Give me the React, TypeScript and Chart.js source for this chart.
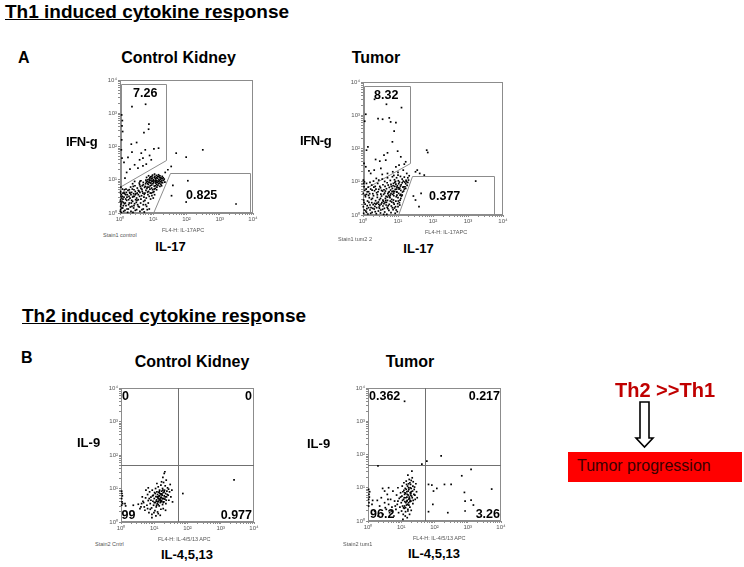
import React, { useEffect, useRef } from 'react';
import { Chart, registerables } from 'chart.js';

Chart.register(...registerables);

const FONT = '"Liberation Sans", Arial, Helvetica, sans-serif';

// axis ticks (log decades with minor ticks)
const DECADE_VALUES = [1, 10, 100, 1000, 10000];
const DECADE_LABELS = ['10⁰', '10¹', '10²', '10³', '10⁴'];
const TICK_VALUES = [
  1, 2, 3, 4, 5, 6, 7, 8, 9,
  10, 20, 30, 40, 50, 60, 70, 80, 90,
  100, 200, 300, 400, 500, 600, 700, 800, 900,
  1000, 2000, 3000, 4000, 5000, 6000, 7000, 8000, 9000,
  10000,
];

// events: [log10 x-channel, log10 y-channel]
const th1ControlEvents: number[][] = [
  [0.36, 3.2], [0.77, 3.27], [0.87, 2.67], [0.86, 2.52], [0.05, 2.95], [0.07, 2.78], [0.06, 2.62], [0.08, 2.45],
  [0.72, 2.42], [0.34, 2.07], [0.36, 1.83], [0.24, 1.67], [0.64, 1.8], [0.69, 1.65], [0.76, 1.9], [1.02, 1.93],
  [1.16, 1.95], [0.59, 1.6], [0.94, 1.6], [0.89, 1.73], [0.44, 1.45], [0.54, 1.35], [0.69, 1.42], [0.79, 1.47],
  [0.05, 2.2], [0.04, 1.9], [0.3, 1.32], [0.12, 1.52], [0.2, 1.22], [0.5, 2.12], [0.06, 1.65], [0.15, 1.05],
  [1.69, 1.8], [1.99, 1.68], [2.49, 1.9], [1.54, 1.4], [1.44, 1.3], [1.36, 1.22],
  [2.04, 0.97], [1.59, 0.83], [1.99, 0.33], [3.49, 0.27], [1.55, 0.52],
  [0.82, 0.95], [0.88, 1.02], [0.93, 0.98], [0.97, 1.05], [1.01, 0.92], [1.05, 1.1], [1.08, 0.99], [1.12, 1.04],
  [1.15, 0.95], [1.19, 1.08], [1.22, 1.01], [1.26, 0.97], [1.3, 1.06], [0.85, 0.86], [0.9, 0.91], [0.95, 0.84],
  [0.99, 0.88], [1.03, 0.81], [1.07, 0.9], [1.1, 0.86], [1.14, 0.83], [1.18, 0.9], [1.23, 0.87], [0.78, 0.99],
  [0.8, 1.07], [0.86, 1.12], [0.92, 1.09], [0.98, 1.14], [1.04, 1.17], [1.1, 1.13], [1.16, 1.15], [1.2, 1.12],
  [1.27, 1.1], [1.33, 1.02], [1.35, 0.93], [0.96, 0.95], [1.0, 1.0], [1.06, 1.03], [1.11, 0.97], [1.17, 1.01],
  [0.89, 0.97], [0.94, 1.03], [1.13, 1.09], [1.24, 1.05], [1.28, 0.91], [0.83, 0.89], [1.09, 0.93], [1.21, 0.95],
  [0.91, 0.82], [1.02, 0.97],
  [0.35, 0.62], [0.42, 0.7], [0.48, 0.58], [0.52, 0.75], [0.57, 0.66], [0.61, 0.8], [0.66, 0.71], [0.7, 0.85],
  [0.74, 0.77], [0.78, 0.68], [0.4, 0.5], [0.45, 0.82], [0.5, 0.45], [0.55, 0.55], [0.6, 0.62], [0.65, 0.52],
  [0.69, 0.6], [0.73, 0.56], [0.77, 0.88], [0.81, 0.74], [0.86, 0.65], [0.9, 0.72], [0.94, 0.6], [0.98, 0.7],
  [1.02, 0.64], [1.06, 0.74], [1.1, 0.7], [0.32, 0.78], [0.38, 0.88], [0.44, 0.95], [0.58, 0.9], [0.63, 0.97],
  [0.28, 0.7], [0.84, 0.55], [0.88, 0.5], [0.92, 0.42], [0.96, 0.52], [1.0, 0.45], [1.04, 0.55], [0.72, 0.48],
  [0.02, 0.1], [0.03, 0.25], [0.02, 0.4], [0.04, 0.55], [0.02, 0.65], [0.03, 0.78], [0.01, 0.05], [0.08, 0.15],
  [0.1, 0.32], [0.12, 0.48], [0.15, 0.08], [0.18, 0.22], [0.2, 0.38], [0.22, 0.55], [0.25, 0.12], [0.28, 0.3],
  [0.3, 0.45], [0.33, 0.05], [0.36, 0.2], [0.38, 0.35], [0.41, 0.15], [0.44, 0.28], [0.47, 0.4], [0.5, 0.1],
  [0.53, 0.25], [0.06, 0.35], [0.09, 0.6], [0.13, 0.7], [0.16, 0.3], [0.19, 0.62], [0.23, 0.02], [0.27, 0.5],
  [0.31, 0.18], [0.35, 0.38], [0.39, 0.02], [0.43, 0.5], [0.46, 0.08], [0.49, 0.32], [0.55, 0.4], [0.58, 0.18],
  [0.62, 0.3], [0.66, 0.1], [0.7, 0.25], [0.75, 0.38], [0.8, 0.2], [0.05, 0.45], [0.11, 0.05], [0.14, 0.58],
  [0.24, 0.68], [0.07, 0.72], [0.85, 0.3], [0.88, 0.12],
  [0.84, 1.0], [0.87, 0.93], [0.9, 1.06], [0.93, 0.9], [0.96, 1.1], [0.99, 0.96], [1.03, 1.07], [1.06, 0.95],
  [1.09, 1.06], [1.12, 0.92], [1.15, 1.1], [1.18, 0.97], [1.21, 1.06], [1.24, 0.93], [1.27, 1.03], [1.31, 0.98],
  [0.76, 0.8], [0.79, 0.93], [0.82, 0.78], [0.7, 0.92], [0.67, 0.82], [0.63, 0.74], [0.59, 0.85], [0.55, 0.68],
  [0.52, 0.6], [0.46, 0.65], [0.41, 0.58], [0.37, 0.72], [0.33, 0.55], [0.29, 0.62], [0.26, 0.4], [0.21, 0.48],
  [0.17, 0.42], [0.1, 0.22], [0.07, 0.5], [0.04, 0.3], [0.12, 0.62], [0.18, 0.72], [0.4, 0.8], [0.6, 0.95],
  [0.05, 0.15], [0.09, 0.42], [0.13, 0.28], [0.17, 0.55], [0.21, 0.12], [0.26, 0.25], [0.3, 0.6], [0.34, 0.3],
  [0.38, 0.48], [0.42, 0.22], [0.46, 0.55], [0.51, 0.38], [0.55, 0.2], [0.59, 0.5], [0.63, 0.42], [0.67, 0.65],
  [0.71, 0.35], [0.75, 0.6], [0.79, 0.45], [0.83, 0.63], [0.87, 0.78], [0.91, 0.6], [0.95, 0.75], [0.99, 0.62],
  [1.03, 0.72], [1.07, 0.82], [1.11, 0.78], [1.16, 0.88], [1.2, 0.8], [1.25, 0.82], [0.02, 0.2], [0.01, 0.35],
  [0.03, 0.5], [0.02, 0.6], [0.04, 0.02], [0.6, 0.05], [0.7, 0.12], [0.77, 0.25], [0.82, 0.1], [0.73, 0.03],
];

const th1TumorEvents: number[][] = [
  [0.33, 3.48], [0.67, 3.33], [1.1, 3.23], [0.43, 2.9], [0.56, 2.88], [0.75, 2.92], [0.79, 2.8], [0.94, 2.78],
  [0.89, 2.52], [0.08, 3.03], [0.05, 2.82], [0.14, 2.05], [0.1, 1.95], [0.36, 1.67], [0.48, 1.62], [0.51, 1.4],
  [0.6, 1.8], [0.65, 1.65], [0.7, 1.87], [0.84, 2.2], [0.99, 1.92], [1.08, 1.75], [1.22, 1.6], [0.08, 1.45],
  [0.17, 1.33], [0.32, 1.35], [0.22, 1.25], [0.01, 1.05], [0.03, 1.55], [0.94, 1.45], [1.03, 1.5], [1.18, 1.53],
  [1.82, 1.95], [1.85, 1.88], [1.5, 1.3], [1.62, 1.25], [1.75, 1.2], [1.55, 1.35],
  [3.22, 1.02], [1.66, 0.65], [1.5, 0.45], [1.6, 0.25], [1.44, 0.57],
  [0.02, 0.05], [0.08, 0.12], [0.14, 0.03], [0.2, 0.15], [0.26, 0.08], [0.32, 0.18], [0.38, 0.04], [0.44, 0.12],
  [0.5, 0.06], [0.56, 0.17], [0.62, 0.09], [0.68, 0.02], [0.74, 0.14], [0.8, 0.07], [0.86, 0.16], [0.92, 0.05],
  [0.98, 0.1], [0.11, 0.19], [0.35, 0.1], [0.59, 0.02], [0.71, 0.19], [0.47, 0.2],
  [0.01, 0.25], [0.06, 0.33], [0.12, 0.28], [0.17, 0.38], [0.23, 0.22], [0.29, 0.31], [0.34, 0.26], [0.4, 0.36],
  [0.46, 0.24], [0.52, 0.33], [0.57, 0.27], [0.63, 0.38], [0.69, 0.23], [0.75, 0.32], [0.81, 0.27], [0.87, 0.37],
  [0.93, 0.25], [0.99, 0.34], [1.05, 0.3], [0.03, 0.38], [0.44, 0.39], [0.66, 0.3], [0.9, 0.21], [0.2, 0.3],
  [0.02, 0.45], [0.07, 0.55], [0.13, 0.42], [0.18, 0.52], [0.24, 0.47], [0.3, 0.58], [0.36, 0.43], [0.41, 0.53],
  [0.47, 0.46], [0.53, 0.57], [0.58, 0.41], [0.64, 0.5], [0.7, 0.44], [0.76, 0.55], [0.82, 0.47], [0.88, 0.58],
  [0.94, 0.42], [1.0, 0.52], [1.06, 0.45], [1.1, 0.57], [0.27, 0.5], [0.5, 0.5], [0.73, 0.59], [0.97, 0.6],
  [0.16, 0.59],
  [0.01, 0.65], [0.05, 0.74], [0.1, 0.62], [0.16, 0.7], [0.22, 0.78], [0.28, 0.64], [0.33, 0.73], [0.39, 0.67],
  [0.45, 0.77], [0.51, 0.63], [0.56, 0.72], [0.62, 0.66], [0.67, 0.79], [0.73, 0.68], [0.79, 0.75], [0.85, 0.62],
  [0.9, 0.71], [0.96, 0.78], [1.02, 0.65], [1.08, 0.74], [1.13, 0.69], [1.18, 0.78], [0.6, 0.76], [0.84, 0.8],
  [0.41, 0.61],
  [0.03, 0.85], [0.02, 0.95], [0.15, 0.84], [0.25, 0.9], [0.35, 0.86], [0.42, 0.95], [0.5, 0.82], [0.57, 0.91],
  [0.63, 0.86], [0.69, 0.97], [0.75, 0.83], [0.8, 0.92], [0.86, 0.88], [0.91, 0.98], [0.97, 0.84], [1.02, 0.94],
  [1.07, 0.87], [1.12, 0.97], [1.17, 0.85], [1.22, 0.94], [1.26, 0.89], [0.72, 0.9], [0.94, 0.93], [1.05, 0.81],
  [0.3, 1.02], [0.45, 1.05], [0.55, 1.08], [0.62, 1.01], [0.7, 1.12], [0.78, 1.04], [0.84, 1.15], [0.9, 1.06],
  [0.96, 1.12], [1.01, 1.03], [1.07, 1.16], [1.12, 1.08], [1.18, 1.14], [1.23, 1.04], [1.28, 1.12], [1.32, 1.18],
  [0.88, 1.19], [1.0, 1.2],
  [0.7, 1.25], [0.85, 1.3], [1.0, 1.28], [1.15, 1.35], [1.25, 1.25], [0.55, 1.22],
  [0.78, 0.6], [0.83, 0.7], [0.88, 0.66], [0.92, 0.77], [0.97, 0.69], [1.03, 0.78], [1.08, 0.62], [1.14, 0.84],
  [1.19, 0.99], [1.24, 1.0], [0.81, 0.86], [0.87, 0.95], [0.93, 1.01], [0.98, 0.88], [1.04, 0.99], [1.09, 0.91],
  [1.15, 1.02], [0.66, 0.56], [0.71, 0.64], [0.77, 0.52], [0.82, 0.39], [0.87, 0.45], [0.95, 0.55], [1.01, 0.42],
  [0.6, 0.34], [0.65, 0.44], [0.54, 0.37], [0.48, 0.29], [0.37, 0.33], [0.25, 0.37],
  [0.04, 0.15], [0.1, 0.08], [0.16, 0.22], [0.22, 0.05], [0.28, 0.2], [0.33, 0.35], [0.39, 0.22], [0.45, 0.32],
  [0.51, 0.15], [0.57, 0.45], [0.61, 0.2], [0.67, 0.38], [0.72, 0.28], [0.78, 0.42], [0.84, 0.22], [0.89, 0.33],
  [0.95, 0.15], [1.0, 0.25], [1.04, 0.37], [1.08, 0.5], [1.12, 0.6], [1.16, 0.72], [1.2, 0.85], [1.22, 0.8],
  [1.28, 0.98], [1.3, 1.05], [0.06, 0.6], [0.09, 0.78], [0.12, 0.7], [0.19, 0.64], [0.26, 0.75], [0.31, 0.84],
  [0.37, 0.78], [0.43, 0.7], [0.48, 0.86], [0.53, 0.74], [0.59, 0.62], [0.64, 0.72], [0.7, 0.54], [0.75, 0.7],
  [0.8, 0.64], [0.86, 0.72], [0.91, 0.86], [0.96, 0.7], [1.01, 0.82], [1.06, 0.6], [0.04, 1.0], [0.1, 0.95],
  [0.2, 0.98], [0.38, 1.1],
];

const th2ControlEvents: number[][] = [
  [0.02, 0.5], [0.03, 0.6], [0.02, 0.7], [0.04, 0.78], [0.03, 0.85], [0.05, 0.55], [0.02, 0.92], [0.12, 0.55],
  [0.14, 0.48],
  [1.86, 0.85], [3.4, 1.26], [0.37, 0.5], [0.93, 0.13],
  [0.52, 0.53], [0.6, 0.45], [0.66, 0.62], [0.68, 0.58], [0.72, 0.35], [0.74, 0.72], [0.78, 0.5], [0.8, 0.82],
  [0.82, 0.64], [0.84, 0.28], [0.86, 0.9], [0.88, 0.55], [0.9, 0.74], [0.92, 0.42], [0.93, 0.23], [0.94, 0.95],
  [0.96, 0.62], [0.97, 0.8], [0.98, 0.5], [1.0, 0.7], [1.01, 0.88], [1.02, 0.34], [1.03, 0.58], [1.04, 1.0],
  [1.05, 0.76], [1.06, 0.45], [1.07, 0.66], [1.08, 0.9], [1.09, 0.55], [1.1, 0.82], [1.1, 0.3], [1.11, 0.72],
  [1.12, 1.05], [1.13, 0.62], [1.14, 0.88], [1.15, 0.48], [1.16, 0.78], [1.16, 0.95], [1.17, 0.68], [1.18, 0.58],
  [1.19, 0.84], [1.2, 1.1], [1.2, 0.38], [1.21, 0.74], [1.22, 0.92], [1.23, 0.62], [1.24, 0.8], [1.25, 1.0],
  [1.25, 0.52], [1.26, 0.7], [1.27, 0.88], [1.28, 1.18], [1.29, 0.6], [1.3, 0.78], [1.3, 1.45], [1.31, 0.95],
  [1.32, 0.68], [1.33, 1.08], [1.34, 0.85], [1.35, 0.55], [1.36, 1.25], [1.37, 0.75], [1.38, 0.92], [1.4, 1.02],
  [1.42, 0.8], [1.44, 0.65], [1.46, 0.9], [1.48, 1.12], [1.5, 0.75], [1.53, 0.95], [1.55, 0.6], [1.26, 1.33],
  [1.32, 1.5], [1.22, 1.2], [0.99, 0.28], [1.05, 0.18], [0.88, 0.38], [0.75, 0.95], [0.7, 0.45], [0.64, 0.75],
  [1.12, 0.25], [1.18, 0.2], [1.27, 0.4], [1.34, 0.35], [0.57, 0.4], [0.82, 1.02], [1.08, 1.15], [1.15, 0.66],
  [1.19, 0.72], [1.23, 0.84], [1.14, 0.77], [1.21, 0.64], [1.28, 0.7], [1.11, 0.6],
  [0.9, 0.65], [0.95, 0.78], [1.0, 0.58], [1.03, 0.85], [1.06, 0.62], [1.09, 0.75], [1.12, 0.52], [1.15, 0.9],
  [1.18, 0.65], [1.21, 0.82], [1.24, 0.7], [1.27, 0.58], [1.3, 0.9], [1.33, 0.75], [1.36, 0.65], [1.13, 0.7],
  [1.17, 0.85], [1.2, 0.6], [1.26, 0.95], [1.07, 0.5], [0.85, 0.7], [0.8, 0.4], [1.39, 0.82], [1.43, 0.98],
  [0.62, 0.55],
];

const th2TumorEvents: number[][] = [
  [0.02, 0.45], [0.03, 0.55], [0.02, 0.65], [0.04, 0.72], [0.03, 0.8], [0.05, 0.88], [0.12, 0.5], [0.14, 0.62],
  [0.02, 0.95],
  [1.1, 3.6], [2.2, 1.96], [1.77, 1.8], [1.62, 1.71], [0.3, 1.66],
  [1.82, 1.1], [1.92, 1.08], [1.97, 0.9], [2.07, 0.98], [2.3, 1.1], [2.5, 1.1], [2.82, 1.36], [3.1, 1.55],
  [2.9, 0.86], [2.92, 0.6], [3.1, 0.63], [3.72, 0.96], [1.82, 0.28], [2.92, 0.3], [3.17, 0.48], [1.95, 0.5],
  [2.4, 0.25],
  [0.2, 0.3], [0.28, 0.62], [0.35, 0.45], [0.4, 0.7], [0.45, 0.2], [0.5, 0.55], [0.55, 0.35], [0.58, 0.8],
  [0.62, 0.5], [0.65, 0.25], [0.68, 0.65], [0.72, 0.42], [0.75, 0.9], [0.78, 0.15], [0.8, 0.6], [0.84, 0.35],
  [0.86, 0.78], [0.88, 0.5], [0.9, 1.0], [0.92, 0.25], [0.94, 0.68], [0.96, 0.42], [0.98, 0.85], [0.3, 0.15],
  [0.5, 0.9], [0.62, 1.0], [0.44, 0.98],
  [1.0, 0.55], [1.01, 0.3], [1.02, 0.75], [1.03, 1.05], [1.04, 0.45], [1.05, 0.88], [1.06, 0.2], [1.07, 0.65],
  [1.08, 1.15], [1.09, 0.38], [1.1, 0.8], [1.11, 0.58], [1.12, 0.98], [1.13, 0.28], [1.14, 0.7], [1.15, 1.2],
  [1.16, 0.48], [1.17, 0.88], [1.18, 0.62], [1.19, 1.05], [1.2, 0.35], [1.21, 0.78], [1.22, 0.55], [1.23, 0.95],
  [1.24, 1.25], [1.25, 0.68], [1.26, 0.42], [1.27, 0.85], [1.28, 1.1], [1.29, 0.6], [1.3, 0.98], [1.31, 0.75],
  [1.32, 1.5], [1.33, 1.3], [1.34, 0.9], [1.35, 0.52], [1.36, 1.18], [1.38, 0.8], [1.4, 1.02], [1.42, 0.65],
  [1.44, 1.12], [1.46, 0.88], [1.48, 0.7], [1.12, 0.15], [1.18, 0.1], [1.25, 0.2], [1.05, 0.05], [1.3, 0.32],
  [1.2, 1.38], [1.27, 1.0], [1.15, 0.95], [1.22, 1.12], [1.17, 0.72], [1.23, 0.66], [1.13, 0.83], [1.29, 0.83],
  [1.08, 0.92], [1.35, 1.05], [1.19, 0.5], [1.26, 0.58],
  [1.1, 0.45], [1.14, 0.55], [1.18, 0.8], [1.21, 0.9], [1.24, 0.72], [1.27, 0.62], [1.3, 0.88], [1.33, 0.7],
  [1.16, 1.1], [1.22, 1.0], [1.26, 1.15], [1.3, 1.22], [1.13, 0.4], [1.2, 0.3], [1.09, 0.7], [1.04, 0.62],
  [0.98, 0.72], [0.9, 0.6], [0.82, 0.45], [0.7, 0.3], [0.6, 0.65], [0.52, 0.4], [1.36, 0.62], [1.39, 0.95],
  [1.41, 0.78], [1.17, 0.6], [1.23, 0.48], [1.28, 0.78], [1.11, 0.85], [1.07, 0.4],
];

// gate polygons (vertices in channel values)
const th1ControlIfngGate = [[1.07, 7600], [25, 7600], [25, 39], [1.07, 6.3]];
const th1ControlIl17Gate = [[31, 15.6], [8300, 15.6], [8300, 1], [9.5, 1]];
const th1TumorIfngGate = [[1.07, 7400], [22, 7400], [22, 37], [1.07, 6]];
const th1TumorIl17Gate = [[24.5, 14.8], [5500, 14.8], [5500, 1], [10, 1]];
// quadrant gate position [x, y]
const th2ControlQuadrant = [52, 50];
const th2TumorQuadrant = [52, 49];

type PlotProps = {
  left: number; top: number; width: number; height: number;
  events: number[][]; gates?: number[][][]; quadrant?: number[];
};

const PAD_L = 24, PAD_T = 6, PAD_R = 10, PAD_B = 16;

function FlowPlot({ left, top, width, height, events, gates = [], quadrant }: PlotProps) {
  const ref = useRef<HTMLCanvasElement | null>(null);
  useEffect(() => {
    const overlay = {
      id: 'flowOverlay',
      beforeDatasetsDraw(chart: any) {
        const { ctx, chartArea: a, scales } = chart;
        const xs = scales.x, ys = scales.y;
        ctx.save();
        ctx.lineWidth = 1;
        ctx.strokeStyle = '#8c8c8c';
        ctx.strokeRect(a.left + 0.5, a.top + 0.5, a.right - a.left - 1, a.bottom - a.top - 1);
        gates.forEach((g) => {
          ctx.beginPath();
          g.forEach(([vx, vy], i) => {
            const px = Math.round(xs.getPixelForValue(vx)) + 0.5;
            const py = Math.round(ys.getPixelForValue(vy)) + 0.5;
            if (i === 0) ctx.moveTo(px, py); else ctx.lineTo(px, py);
          });
          ctx.closePath();
          ctx.stroke();
        });
        if (quadrant) {
          ctx.strokeStyle = '#707070';
          const qx = Math.round(xs.getPixelForValue(quadrant[0])) + 0.5;
          const qy = Math.round(ys.getPixelForValue(quadrant[1])) + 0.5;
          ctx.beginPath();
          ctx.moveTo(qx, a.top); ctx.lineTo(qx, a.bottom);
          ctx.moveTo(a.left, qy); ctx.lineTo(a.right, qy);
          ctx.stroke();
        }
        ctx.restore();
      },
    };
    const tickLabel = (v: any) => {
      const i = DECADE_VALUES.indexOf(Number(v));
      return i >= 0 ? DECADE_LABELS[i] : '';
    };
    const axis = (isX: boolean) => ({
      type: 'logarithmic' as const,
      min: 1,
      max: 10000,
      afterBuildTicks: (s: any) => { s.ticks = TICK_VALUES.map((v) => ({ value: v })); },
      afterFit: (s: any) => { if (isX) s.height = PAD_B; else s.width = PAD_L; },
      ticks: {
        autoSkip: false,
        maxRotation: 0,
        minRotation: 0,
        padding: 1,
        callback: tickLabel,
        font: { size: 6, family: FONT },
        color: '#555',
      },
      grid: { display: true, drawOnChartArea: false, drawTicks: true, tickLength: 2, color: '#8c8c8c', lineWidth: 1 },
      border: { display: true, color: '#8c8c8c', width: 1 },
    });
    const chart = new Chart(ref.current as HTMLCanvasElement, {
      type: 'scatter',
      data: {
        datasets: [{
          data: events.map(([x, y]) => ({ x: Math.pow(10, x), y: Math.pow(10, y) })),
          pointStyle: 'rect',
          pointRadius: 1.2,
          borderWidth: 0,
          backgroundColor: '#000',
          clip: 4,
        } as any],
      },
      options: {
        animation: false,
        responsive: false,
        events: [],
        layout: { padding: { top: PAD_T, right: PAD_R, left: 0, bottom: 0 } },
        plugins: { legend: { display: false }, tooltip: { enabled: false } },
        scales: { x: axis(true) as any, y: axis(false) as any },
      },
      plugins: [overlay],
    });
    return () => chart.destroy();
  }, []);
  const w = width + PAD_L + PAD_R, h = height + PAD_T + PAD_B;
  return (
    <canvas
      ref={ref}
      width={w}
      height={h}
      style={{ position: 'absolute', left: left - PAD_L, top: top - PAD_T, width: w, height: h }}
    />
  );
}

type LabelProps = {
  x: number; y: number; size: number; bold?: boolean; color?: string;
  align?: 'left' | 'right' | 'center'; children: React.ReactNode; spacing?: number;
};

function Label({ x, y, size, bold = false, color = '#000', align = 'left', children, spacing }: LabelProps) {
  const style: React.CSSProperties = {
    position: 'absolute',
    top: y - 0.8465 * size,
    fontSize: size,
    lineHeight: `${size}px`,
    fontWeight: bold ? 700 : 400,
    fontFamily: FONT,
    color,
    whiteSpace: 'nowrap',
    letterSpacing: spacing,
  };
  if (align === 'left') style.left = x;
  else if (align === 'right') style.right = 744 - x;
  else { style.left = x; style.transform = 'translateX(-50%)'; }
  return <div style={style}>{children}</div>;
}

export default function App() {
  return (
    <div style={{ position: 'absolute', left: 0, top: 0, width: 744, height: 567, background: '#fff', overflow: 'hidden' }}>
      {/* Section A */}
      <Label x={5} y={18.5} size={19} bold>
        <span style={{ textDecoration: 'underline' }}>Th1 induced cytokine resp</span>onse
      </Label>
      <Label x={18} y={63.5} size={16} bold>A</Label>
      <Label x={178.5} y={64} size={16} bold align="center">Control Kidney</Label>
      <Label x={376} y={64} size={16} bold align="center">Tumor</Label>

      <FlowPlot left={120} top={80} width={133} height={133} events={th1ControlEvents}
        gates={[th1ControlIfngGate, th1ControlIl17Gate]} />
      <FlowPlot left={363} top={82} width={140} height={133} events={th1TumorEvents}
        gates={[th1TumorIfngGate, th1TumorIl17Gate]} />

      <Label x={66} y={146.5} size={13} bold spacing={-0.4}>IFN-g</Label>
      <Label x={170.5} y={251} size={13} bold align="center">IL-17</Label>
      <Label x={300} y={145} size={13} bold spacing={-0.4}>IFN-g</Label>
      <Label x={418.5} y={253} size={13} bold align="center">IL-17</Label>

      <Label x={103} y={238} size={5.5} color="#555">Stain1 control</Label>
      <Label x={162} y={233} size={5.5} color="#555">FL4-H: IL-17APC</Label>
      <Label x={338} y={242} size={5.5} color="#555">Stain1 tum2 2</Label>
      <Label x={425} y={234.5} size={5.5} color="#555">FL4-H: IL-17APC</Label>

      <Label x={133} y={97.5} size={12.5} bold>7.26</Label>
      <Label x={186} y={200} size={12.5} bold>0.825</Label>
      <Label x={374} y={100} size={12.5} bold>8.32</Label>
      <Label x={429} y={200.5} size={12.5} bold>0.377</Label>

      {/* Section B */}
      <Label x={22} y={322.5} size={19} bold>
        <span style={{ textDecoration: 'underline' }}>Th2 induced cytokine resp</span>onse
      </Label>
      <Label x={21} y={364} size={16} bold>B</Label>
      <Label x={192} y={368} size={16} bold align="center">Control Kidney</Label>
      <Label x={410} y={368} size={16} bold align="center">Tumor</Label>

      <FlowPlot left={121} top={388} width={133} height={134} events={th2ControlEvents}
        quadrant={th2ControlQuadrant} />
      <FlowPlot left={368} top={388} width={133} height={133} events={th2TumorEvents}
        quadrant={th2TumorQuadrant} />

      <Label x={77} y={447.5} size={13} bold>IL-9</Label>
      <Label x={307} y={448} size={13} bold>IL-9</Label>
      <Label x={187} y={559.5} size={13} bold align="center">IL-4,5,13</Label>
      <Label x={434} y={558} size={13} bold align="center">IL-4,5,13</Label>

      <Label x={95} y={547} size={5.5} color="#555">Stain2 Cntrl</Label>
      <Label x={158} y={541.5} size={5.5} color="#555">FL4-H: IL-4/5/13 APC</Label>
      <Label x={343} y={547} size={5.5} color="#555">Stain2 tum1</Label>
      <Label x={413} y={541} size={5.5} color="#555">FL4-H: IL-4/5/13 APC</Label>

      <Label x={122} y={401} size={12.5} bold>0</Label>
      <Label x={252} y={401} size={12.5} bold align="right">0</Label>
      <Label x={121.5} y={520} size={12.5} bold>99</Label>
      <Label x={252} y={520} size={12.5} bold align="right">0.977</Label>

      <Label x={369} y={400.7} size={12.5} bold>0.362</Label>
      <Label x={500} y={400.7} size={12.5} bold align="right">0.217</Label>
      <Label x={370} y={519} size={12.5} bold>96.2</Label>
      <Label x={500} y={519} size={12.5} bold align="right">3.26</Label>

      {/* Right annotation */}
      <Label x={615} y={397} size={20} bold color="#c00000">Th2 &gt;&gt;Th1</Label>
      <svg style={{ position: 'absolute', left: 630, top: 398 }} width={30} height={55}>
        <polygon points="10,4 19,4 19,40 23,40 14.5,49 6,40 10,40" fill="#fff" stroke="#000" strokeWidth={1.6} />
      </svg>
      <div style={{ position: 'absolute', left: 568, top: 452, width: 174, height: 30, background: '#ff0000' }} />
      <Label x={577} y={472} size={16} color="#3a0000">Tumor progression</Label>
    </div>
  );
}
